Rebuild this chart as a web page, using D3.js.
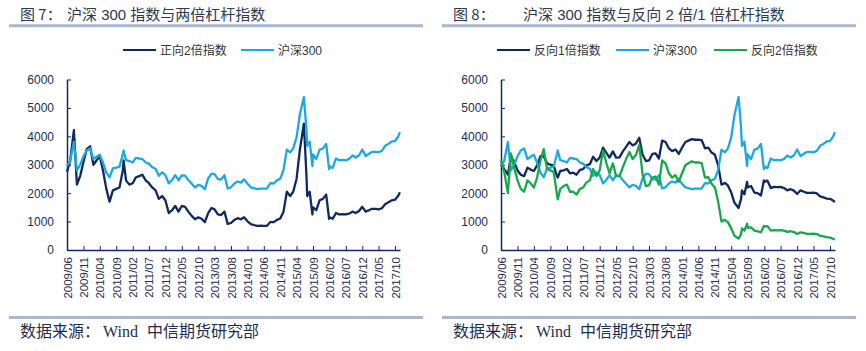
<!DOCTYPE html>
<html>
<head>
<meta charset="utf-8">
<script src="https://cdn.jsdelivr.net/npm/d3@7"></script>
<style>
  body { margin: 0; background: #fff; }
  svg { display: block; font-family: Arial, "Liberation Sans", "Noto Sans CJK SC", sans-serif; }
</style>
</head>
<body>
<script>
/* global d3 */
var width  = 866;
var height = 351;

// sample dates (month starts plus a few turning points)
var dates = [
  '2009-06-01','2009-07-01','2009-08-04','2009-09-01','2009-10-01','2009-11-01','2009-12-01',
  '2010-01-01','2010-02-01','2010-03-01','2010-04-01','2010-05-01','2010-06-01','2010-07-01',
  '2010-08-01','2010-09-01','2010-10-01','2010-11-01','2010-11-08','2010-12-01',
  '2011-01-01','2011-02-01','2011-03-01','2011-04-01','2011-05-01','2011-06-01','2011-07-01',
  '2011-08-01','2011-09-01','2011-10-01','2011-11-01','2011-12-01',
  '2012-01-01','2012-02-01','2012-03-01','2012-04-01','2012-05-01','2012-06-01','2012-07-01',
  '2012-08-01','2012-09-01','2012-10-01','2012-11-01','2012-12-01',
  '2013-01-01','2013-02-01','2013-03-01','2013-04-01','2013-05-01','2013-06-01','2013-07-01',
  '2013-08-01','2013-09-01','2013-10-01','2013-11-01','2013-12-01',
  '2014-01-01','2014-02-01','2014-03-01','2014-04-01','2014-05-01','2014-06-01','2014-07-01',
  '2014-08-01','2014-09-01','2014-10-01','2014-11-01','2014-12-01',
  '2015-01-01','2015-02-01','2015-03-01','2015-04-01','2015-05-01','2015-06-08','2015-07-01',
  '2015-07-09','2015-08-01','2015-08-26','2015-09-01','2015-10-01','2015-11-01','2015-12-01',
  '2016-01-01','2016-01-28','2016-02-01','2016-03-01','2016-04-01','2016-05-01','2016-06-01',
  '2016-07-01','2016-08-01','2016-09-01','2016-10-01','2016-11-01','2016-12-01',
  '2017-01-01','2017-02-01','2017-03-01','2017-04-01','2017-05-01','2017-06-01','2017-07-01',
  '2017-08-01','2017-09-01','2017-10-01','2017-11-01','2017-11-15'
];

// 沪深300
var hs300 = [
  2960, 3140, 3800, 2800, 3000, 3300, 3500,
  3575, 3200, 3280, 3350, 3070, 2720, 2560, 2870, 2900, 2935, 3380, 3500, 3160,
  3130, 3080, 3240, 3220, 3200, 3080, 3040, 2910, 2860, 2610, 2735, 2635,
  2345, 2465, 2635, 2455, 2625, 2620, 2460, 2330, 2205, 2295, 2255, 2140,
  2520, 2690, 2670, 2495, 2480, 2630, 2165, 2205, 2340, 2410, 2370, 2485,
  2330, 2205, 2180, 2145, 2160, 2160, 2165, 2350, 2340, 2450, 2510, 2810,
  3535, 3435, 3570, 3965, 4750, 5380, 4300, 3660, 3815, 2950, 3360, 3200, 3535, 3565,
  3730, 2850, 2945, 2880, 3220, 3155, 3170, 3155, 3205, 3325, 3255, 3335, 3535,
  3310, 3385, 3450, 3455, 3440, 3490, 3665, 3735, 3820, 3835, 4005, 4150
];

// 正向2倍指数
var long2x = [
  2750, 3150, 4220, 2300, 2600, 3100, 3550,
  3650, 3000, 3150, 3300, 2800, 2150, 1700, 2100, 2150, 2200, 2800, 3150, 2450,
  2300, 2350, 2550, 2600, 2650, 2450, 2350, 2200, 2100, 1800, 1900, 1750,
  1300, 1400, 1550, 1350, 1550, 1520, 1350, 1200, 1080, 1150, 1100, 980,
  1300, 1480, 1430, 1250, 1230, 1350, 920, 950, 1060, 1120, 1080, 1150,
  1010, 910, 880, 850, 860, 850, 850, 990, 980, 1060, 1110, 1350,
  2050, 1900, 2050, 2500, 3500, 4450, 2700, 1900, 2050, 1250, 1500, 1400, 1750, 1800,
  1950, 1100, 1150, 1100, 1300, 1250, 1260, 1250, 1280, 1350, 1300, 1370, 1520,
  1350, 1400, 1450, 1450, 1430, 1470, 1610, 1680, 1750, 1770, 1920, 2030
];

// 反向1倍指数
var inverse1x = [
  3000, 2850, 2650, 3300, 3100, 2800, 2650,
  2600, 2900, 2830, 2780, 2980, 3300, 3300, 3050, 3000, 2980, 2600, 2550, 2780,
  2800, 2850, 2700, 2720, 2650, 2820, 2850, 2980, 3020, 3280, 3130, 3250,
  3600, 3420, 3250, 3470, 3250, 3260, 3460, 3630, 3800, 3680, 3750, 3950,
  3350, 3130, 3150, 3380, 3400, 3220, 3850, 3800, 3580, 3480, 3540, 3380,
  3600, 3800, 3850, 3900, 3880, 3880, 3870, 3580, 3600, 3430, 3350, 2980,
  2300, 2360, 2270, 2020, 1660, 1480, 1800, 2100, 1960, 2400, 2200, 2250, 2020, 2000,
  1920, 2450, 2400, 2440, 2180, 2220, 2210, 2220, 2180, 2100, 2140, 2090, 1970,
  2100, 2050, 2010, 2010, 2020, 1990, 1890, 1850, 1810, 1800, 1730, 1690
];

// 反向2倍指数
var inverse2x = [
  3150, 2750, 2000, 3400, 2900, 2450, 2150,
  2050, 2450, 2350, 2200, 2550, 3150, 3550, 2850, 2800, 2750, 1950, 1780, 2150,
  2250, 2300, 2050, 2050, 1950, 2150, 2200, 2380, 2450, 2850, 2600, 2800,
  3500, 3050, 2700, 3050, 2600, 2600, 2900, 3200, 3450, 3200, 3350, 3700,
  2650, 2250, 2280, 2550, 2580, 2300, 3150, 3050, 2700, 2550, 2630, 2400,
  2700, 2980, 3050, 3120, 3080, 3080, 3060, 2550, 2560, 2330, 2200, 1700,
  1000, 1060, 980, 760, 500, 400, 560, 760, 680, 930, 780, 800, 680, 660,
  620, 850, 820, 840, 680, 700, 690, 700, 680, 640, 660, 630, 560,
  620, 600, 570, 570, 575, 560, 500, 480, 450, 440, 390, 370
];

var yTicks = [0, 1000, 2000, 3000, 4000, 5000, 6000];

var navy  = '#0f2a62';
var cyan  = '#1ca9e1';
var green = '#17a84b';
var ink   = '#1f2d50';
var rule  = '#a9b8d1';

var parse = d3.timeParse('%Y-%m-%d');
var start = parse('2009-06-01');
var end   = parse('2017-11-16');
var xTickDates = d3.range(0, 101, 5).map(function(m) { return d3.timeMonth.offset(start, m); });

var svg = d3.select('body')
  .append('svg')
  .attr('width', width)
  .attr('height', height)
  .attr('viewBox', [0, 0, width, height].join(' '));

var charts = [
  {
    left: 0, x0: 67, x1: 400,
    label: '图 7：', labelAt: 20,
    title: '沪深 300 指数与两倍杠杆指数', titleAt: 67,
    series: [
      { name: '正向2倍指数', values: long2x, color: navy, legend: 123 },
      { name: '沪深300',    values: hs300,  color: cyan, legend: 241 }
    ]
  },
  {
    left: 433, x0: 501, x1: 835,
    label: '图 8：', labelAt: 453,
    title: '沪深 300 指数与反向 2 倍/1 倍杠杆指数', titleAt: 523,
    series: [
      { name: '反向1倍指数', values: inverse1x, color: navy,  legend: 497 },
      { name: '沪深300',    values: hs300,     color: cyan,  legend: 616 },
      { name: '反向2倍指数', values: inverse2x, color: green, legend: 714 }
    ]
  }
];

charts.forEach(drawChart);

function drawChart(c) {
  var g = svg.append('g');

  // title
  g.append('text')
    .attr('x', c.labelAt).attr('y', 20)
    .attr('fill', '#2e3a52')
    .style('font-size', '15px')
    .style('font-family', '"Noto Sans CJK SC", sans-serif')
    .text(c.label);
  g.append('text')
    .attr('x', c.titleAt).attr('y', 20)
    .attr('fill', '#2e3a52')
    .style('font-size', '15px')
    .style('font-family', 'Arial, "Noto Sans CJK SC", sans-serif')
    .text(c.title);

  // rules above and below
  [25.7, 317.6].forEach(function(yy) {
    g.append('line')
      .attr('x1', c.left + 9).attr('x2', c.left + 423)
      .attr('y1', yy).attr('y2', yy)
      .attr('stroke', rule).attr('stroke-width', 3);
  });

  // source
  var src = g.append('text')
    .attr('y', 337)
    .attr('fill', ink)
    .style('font-size', '16px')
    .style('font-family', '"Liberation Serif", "Noto Sans CJK SC", serif');
  src.append('tspan').attr('x', c.left + 20).text('数据来源：');
  src.append('tspan').attr('x', c.left + 103).text('Wind');
  src.append('tspan').attr('x', c.left + 147).text('中信期货研究部');

  // legend
  c.series.forEach(function(s) {
    g.append('line')
      .attr('x1', s.legend).attr('x2', s.legend + 33)
      .attr('y1', 50).attr('y2', 50)
      .attr('stroke', s.color).attr('stroke-width', 2);
    g.append('text')
      .attr('x', s.legend + 37).attr('y', 54.5)
      .attr('fill', '#333')
      .style('font-size', '12px')
      .text(s.name);
  });

  var x = d3.scaleTime().domain([start, end]).range([c.x0, c.x1]);
  var y = d3.scaleLinear().domain([0, 6000]).range([250, 79.5]);

  // y axis
  var yAxis = g.append('g')
    .attr('transform', 'translate(' + c.x0 + ',0)')
    .call(d3.axisLeft(y).tickValues(yTicks).tickFormat(d3.format('d'))
      .tickSizeInner(-4).tickSizeOuter(0).tickPadding(13));
  yAxis.select('.domain').attr('stroke', navy).attr('stroke-width', 1.5);
  yAxis.selectAll('.tick line').attr('stroke', navy);
  yAxis.selectAll('text')
    .attr('fill', ink)
    .style('font-size', '12px')
    .style('font-family', 'Arial, "Liberation Sans", sans-serif');

  // lines
  var line = d3.line()
    .x(function(d) { return x(d.date); })
    .y(function(d) { return y(d.value); });

  c.series.forEach(function(s) {
    var pts = dates.map(function(d, i) { return { date: parse(d), value: s.values[i] }; });
    g.append('path')
      .datum(pts)
      .attr('d', line)
      .attr('fill', 'none')
      .attr('stroke', s.color)
      .attr('stroke-width', 2.3)
      .attr('stroke-linejoin', 'round');
  });

  // x axis
  var xAxis = g.append('g')
    .attr('transform', 'translate(0,250)')
    .call(d3.axisBottom(x).tickValues(xTickDates).tickSizeInner(-4).tickSizeOuter(0)
      .tickFormat(d3.timeFormat('%Y/%m')));
  xAxis.select('.domain').attr('stroke', navy).attr('stroke-width', 1.5);
  xAxis.selectAll('.tick line').attr('stroke', navy);
  xAxis.selectAll('text')
    .attr('fill', ink)
    .attr('transform', 'translate(0,7) rotate(-90)')
    .attr('x', 0).attr('y', 0).attr('dy', '0.35em')
    .attr('text-anchor', 'end')
    .style('font-size', '11.5px')
    .style('font-family', 'Arial, "Liberation Sans", sans-serif');
}
</script>
</body>
</html>
